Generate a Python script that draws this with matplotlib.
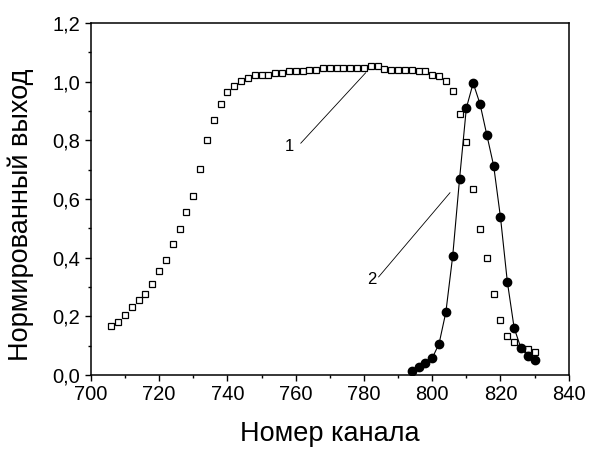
import matplotlib
matplotlib.use("Agg")
import matplotlib.pyplot as plt
from matplotlib.ticker import MultipleLocator, FuncFormatter

plt.rcParams['font.family'] = ['Liberation Sans', 'DejaVu Sans']

# curve 1 (open squares)
ch1 = list(range(706, 832, 2))
out1 = [0.165, 0.179, 0.204, 0.233, 0.254, 0.277, 0.311, 0.355, 0.393, 0.445,
        0.499, 0.556, 0.611, 0.701, 0.802, 0.868, 0.922, 0.965, 0.986, 1.001,
        1.013, 1.024, 1.024, 1.024, 1.030, 1.030, 1.035, 1.035, 1.035, 1.041,
        1.041, 1.047, 1.047, 1.047, 1.047, 1.047, 1.047, 1.047, 1.052, 1.052,
        1.044, 1.041, 1.041, 1.041, 1.041, 1.037, 1.037, 1.024, 1.018, 1.001,
        0.968, 0.889, 0.795, 0.633, 0.496, 0.399, 0.277, 0.188, 0.132, 0.111,
        0.092, 0.087, 0.078]

# curve 2 (filled circles)
ch2 = list(range(794, 832, 2))
out2 = [0.013, 0.026, 0.041, 0.057, 0.106, 0.214, 0.405, 0.667, 0.910, 0.995,
        0.924, 0.818, 0.713, 0.537, 0.318, 0.160, 0.091, 0.064, 0.051]

fig = plt.figure(figsize=(5.9, 4.5), dpi=100)
ax = fig.add_axes([0.154, 0.167, 0.81, 0.782])

ax.plot(ch1, out1, ls='none', marker='s', ms=5, mfc='white', mec='black', mew=0.9)
ax.plot(ch2, out2, color='black', lw=0.8, marker='o', ms=6, mfc='black', mec='black')

# labels for the curves
ax.plot([761.5, 780.5], [0.79, 1.03], color='black', lw=0.6)
ax.text(759.5, 0.78, '1', fontsize=12, ha='right', va='center')
ax.plot([784.3, 805.2], [0.334, 0.621], color='black', lw=0.6)
ax.text(783.8, 0.325, '2', fontsize=12, ha='right', va='center')

ax.set_xlim(700, 840)
ax.set_ylim(0, 1.2)
ax.xaxis.set_major_locator(MultipleLocator(20))
ax.xaxis.set_minor_locator(MultipleLocator(10))
ax.yaxis.set_major_locator(MultipleLocator(0.2))
ax.yaxis.set_minor_locator(MultipleLocator(0.1))
ax.yaxis.set_major_formatter(FuncFormatter(lambda v, p: f"{v:.1f}".replace('.', ',')))
ax.tick_params(which='major', direction='out', length=4.5, width=1, labelsize=14.5, pad=3)
ax.tick_params(which='minor', direction='out', length=2.5, width=1)
for s in ax.spines.values():
    s.set_linewidth(1.1)

ax.set_xlabel('Номер канала', fontsize=19.5, labelpad=12)
ax.set_ylabel('Нормированный выход', fontsize=19.5)
ax.yaxis.set_label_coords(-0.118, 0.455)

fig.savefig('out.png', dpi=100)
